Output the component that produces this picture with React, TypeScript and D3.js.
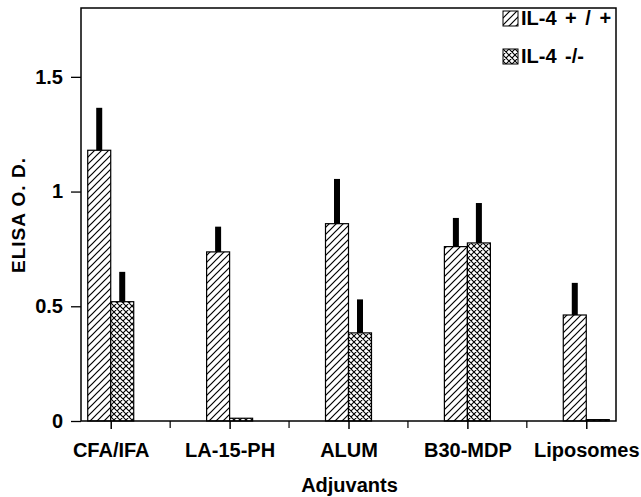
import React, { useEffect, useRef } from 'react';
import * as d3 from 'd3';

const WIDTH = 641;
const HEIGHT = 497;

const MARGIN = {
  top: 8,
  right: 25,
  bottom: 76,
  left: 81,
};

const FONT = '"Liberation Sans", Arial, Helvetica, sans-serif';

// values
const categories = ['CFA/IFA', 'LA-15-PH', 'ALUM', 'B30-MDP', 'Liposomes'];
const seriesNames = ['IL-4 + / +', 'IL-4 -/-'];
const wildType = [1.18, 0.737, 0.86, 0.76, 0.462];
const wildTypeErr = [0.185, 0.11, 0.195, 0.125, 0.14];
const knockout = [0.52, 0.012, 0.384, 0.776, 0.006];
const knockoutErr = [0.13, 0, 0.146, 0.174, 0];
const yTicks = [0, 0.5, 1, 1.5];
const yLabel = 'ELISA O. D.';
const xLabel = 'Adjuvants';

const BAR_W = 23;
const ERR_W = 6;

export default function App() {
  const ref = useRef<SVGSVGElement>(null);

  useEffect(() => {
    const svg = d3.select(ref.current);
    svg.selectAll('*').remove();

    const x = d3.scalePoint<string>()
      .domain(categories)
      .range([MARGIN.left, WIDTH - MARGIN.right])
      .padding(0.25);

    const inner = d3.scaleBand<string>()
      .domain(seriesNames)
      .range([-BAR_W, BAR_W]);

    const y = d3.scaleLinear()
      .domain([0, 1.8])
      .range([HEIGHT - MARGIN.bottom, MARGIN.top]);

    const defs = svg.append('defs');

    const hatch = defs.append('pattern')
      .attr('id', 'hatch')
      .attr('patternUnits', 'userSpaceOnUse')
      .attr('width', 7)
      .attr('height', 7);
    hatch.append('rect').attr('width', 7).attr('height', 7).attr('fill', 'white');
    hatch.append('path')
      .attr('d', 'M-1,1 l2,-2 M0,7 l7,-7 M6,8 l2,-2')
      .attr('stroke', 'black')
      .attr('stroke-width', 1.2);

    const cross = defs.append('pattern')
      .attr('id', 'cross')
      .attr('patternUnits', 'userSpaceOnUse')
      .attr('width', 6)
      .attr('height', 6);
    cross.append('rect').attr('width', 6).attr('height', 6).attr('fill', 'white');
    cross.append('path')
      .attr('d', 'M-1,1 l2,-2 M0,6 l6,-6 M5,7 l2,-2 M-1,5 l2,2 M0,0 l6,6 M5,-1 l2,2')
      .attr('stroke', 'black')
      .attr('stroke-width', 1.1);

    const fills = ['url(#hatch)', 'url(#cross)'];
    const series = [
      { name: seriesNames[0], values: wildType, errs: wildTypeErr, fill: fills[0] },
      { name: seriesNames[1], values: knockout, errs: knockoutErr, fill: fills[1] },
    ];

    series.forEach(s => {
      const g = svg.append('g');
      const rows = categories.map((c, i) => ({ c, v: s.values[i], e: s.errs[i] }));

      g.selectAll('rect.bar')
        .data(rows)
        .enter()
        .append('rect')
        .attr('class', 'bar')
        .attr('x', d => (x(d.c) as number) + (inner(s.name) as number))
        .attr('y', d => y(d.v))
        .attr('width', inner.bandwidth())
        .attr('height', d => y(0) - y(d.v))
        .attr('fill', s.fill)
        .attr('stroke', 'black')
        .attr('stroke-width', 1.2);

      g.selectAll('rect.err')
        .data(rows.filter(d => d.e > 0))
        .enter()
        .append('rect')
        .attr('class', 'err')
        .attr('x', d => (x(d.c) as number) + (inner(s.name) as number) + inner.bandwidth() / 2 - ERR_W / 2)
        .attr('y', d => y(d.v + d.e))
        .attr('width', ERR_W)
        .attr('height', d => y(d.v) - y(d.v + d.e))
        .attr('fill', 'black');
    });

    // frame
    svg.append('rect')
      .attr('x', MARGIN.left)
      .attr('y', MARGIN.top)
      .attr('width', WIDTH - MARGIN.right - MARGIN.left)
      .attr('height', HEIGHT - MARGIN.bottom - MARGIN.top)
      .attr('fill', 'none')
      .attr('stroke', 'black')
      .attr('stroke-width', 1.5);

    const yAxis = svg.append('g')
      .attr('transform', `translate(${MARGIN.left}, 0)`)
      .call(d3.axisLeft(y)
        .tickValues(yTicks)
        .tickSize(10)
        .tickPadding(8)
        .tickFormat(d => String(d)));
    yAxis.select('.domain').remove();
    yAxis.selectAll('line').attr('stroke-width', 1.3);
    yAxis.selectAll('text')
      .attr('font-family', FONT)
      .attr('font-size', 20)
      .attr('font-weight', 'bold')
      .attr('fill', 'black');

    const xAxis = svg.append('g')
      .attr('transform', `translate(0, ${HEIGHT - MARGIN.bottom})`)
      .call(d3.axisBottom(x)
        .tickSize(8)
        .tickPadding(14));
    xAxis.select('.domain').remove();
    xAxis.selectAll('line').attr('stroke-width', 1.5);
    xAxis.selectAll('text')
      .attr('font-family', FONT)
      .attr('font-size', 20)
      .attr('font-weight', 'bold')
      .attr('fill', 'black');

    // minor ticks between categories
    const mids = d3.pairs(categories).map(([a, b]) => ((x(a) as number) + (x(b) as number)) / 2);
    svg.append('g')
      .selectAll('line')
      .data(mids)
      .enter()
      .append('line')
      .attr('x1', d => d)
      .attr('x2', d => d)
      .attr('y1', y(0))
      .attr('y2', y(0) + 7)
      .attr('stroke', 'black')
      .attr('stroke-width', 1.2);

    svg.append('text')
      .attr('transform', `translate(25, 215) rotate(-90)`)
      .attr('text-anchor', 'middle')
      .attr('font-family', FONT)
      .attr('font-size', 19)
      .attr('font-weight', 'bold')
      .attr('letter-spacing', 1)
      .text(yLabel);

    svg.append('text')
      .attr('x', (MARGIN.left + WIDTH - MARGIN.right) / 2 + 1)
      .attr('y', 492)
      .attr('text-anchor', 'middle')
      .attr('font-family', FONT)
      .attr('font-size', 20)
      .attr('font-weight', 'bold')
      .text(xLabel);

    // legend
    const legend = svg.append('g').attr('transform', 'translate(503, 11)');
    series.forEach((s, i) => {
      const row = legend.append('g').attr('transform', `translate(0, ${i * 38})`);
      row.append('rect')
        .attr('width', 15)
        .attr('height', 15)
        .attr('fill', s.fill)
        .attr('stroke', 'black')
        .attr('stroke-width', 1);
      row.append('text')
        .attr('x', 18)
        .attr('y', 14)
        .attr('font-family', FONT)
        .attr('font-size', 20)
        .attr('font-weight', 'bold')
        .attr('word-spacing', 3)
        .text(s.name);
    });
  }, []);

  return (
    <svg
      ref={ref}
      width={WIDTH}
      height={HEIGHT}
      viewBox={`0 0 ${WIDTH} ${HEIGHT}`}
      style={{ position: 'absolute', left: 0, top: 0, background: 'white' }}
    />
  );
}
